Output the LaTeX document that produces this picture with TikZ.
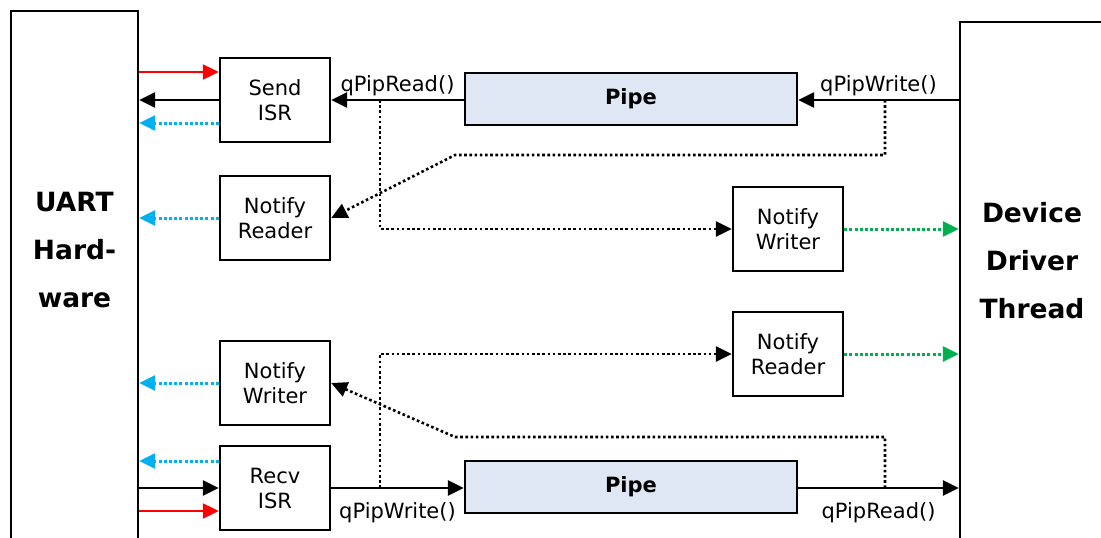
\documentclass[tikz,border=0pt]{standalone}
\usepackage{fontspec}
\setmainfont{DejaVu Sans}
\usetikzlibrary{arrows.meta}
\definecolor{pipeblue}{HTML}{DFE7F5}
\definecolor{sigred}{HTML}{FF0000}
\definecolor{sigcyan}{HTML}{00B0F0}
\definecolor{siggreen}{HTML}{00B050}

\begin{document}
\begin{tikzpicture}[x=1pt,y=-1pt,
    font=\fontsize{21}{25}\selectfont,
    >={Triangle[length=16pt,width=15pt]},
    solidline/.style={draw=black,line width=2.5pt,->},
    redline/.style={draw=sigred,line width=2.2pt,->},
    dotline/.style={draw=black,line width=2.6pt,dash pattern=on 2.6pt off 2.6pt,->},
    cyanline/.style={draw=sigcyan,line width=3pt,dash pattern=on 3pt off 2.2pt,->},
    greenline/.style={draw=siggreen,line width=3pt,dash pattern=on 3pt off 2.2pt,->},
    bigtext/.style={font=\bfseries\fontsize{26.5}{48}\selectfont,align=center}]
\useasboundingbox (0,0) rectangle (1101,538);
\clip (0,0) rectangle (1101,538);

\begin{scope}[every node/.style={draw,line width=2.4pt,inner sep=0pt}]
    \node[minimum width=127pt,minimum height=600pt] (uart) at (74.5,311) {};
    \node[minimum width=200pt,minimum height=600pt] (ddt) at (1060,322) {};
\end{scope}
\node[bigtext] (uarttext) at (74.5,250) {UART\\Hard-\\ware};
\node[bigtext] (ddttext) at (1032,261) {Device\\Driver\\Thread};

\begin{scope}[every node/.style={draw,line width=2.4pt,minimum width=110pt,minimum height=84pt,align=center}]
    \node (sendisr) at (275,100) {Send\\ISR};
    \node (notrdL) at (275,218) {Notify\\Reader};
    \node (notwrL) at (275,383) {Notify\\Writer};
    \node (recvisr) at (275,488) {Recv\\ISR};
    \node (notwrR) at (788,229) {Notify\\Writer};
    \node (notrdR) at (788,354) {Notify\\Reader};
\end{scope}

\begin{scope}[every node/.style={draw,line width=2.4pt,fill=pipeblue,minimum width=332pt,minimum height=52pt,font=\bfseries\fontsize{21}{25}\selectfont}]
    \node (pipetop) at (631,99) {Pipe};
    \node (pipebot) at (631,487) {Pipe};
\end{scope}

\coordinate (tapA) at (380,100);
\coordinate (tapB) at (885,100);
\coordinate (bendB) at (455,155);
\coordinate (tapC) at (380,488);
\coordinate (tapD) at (885,488);
\coordinate (bendD) at (455,437);

\draw[solidline] (pipetop.west |- sendisr.east) -- node[above] {qPipRead()} (sendisr.east);
\draw[solidline] (ddt.west |- tapB) -- node[above] {qPipWrite()} (pipetop.east |- tapB);
\draw[solidline] (recvisr.east) -- node[below=10pt] {qPipWrite()} (pipebot.west |- recvisr.east);
\draw[solidline] (pipebot.east |- tapD) -- node[below=10pt] {qPipRead()} (ddt.west |- tapD);

\draw[dotline] (tapA) |- (notwrR.west);
\draw[dotline] (tapB) |- (bendB) -- (notrdL.east);
\draw[dotline] (tapC) |- (notrdR.west);
\draw[dotline] (tapD) |- (bendD) -- (notwrL.east);

\draw[redline] (uart.east |- 0,72) -- (sendisr.west |- 0,72);
\draw[solidline] (sendisr.west) -- (uart.east |- sendisr.west);
\draw[cyanline] (sendisr.west |- 0,123) -- (uart.east |- 0,123);
\draw[cyanline] (notrdL.west) -- (uart.east |- notrdL.west);
\draw[cyanline] (notwrL.west) -- (uart.east |- notwrL.west);
\draw[cyanline] (recvisr.west |- 0,461) -- (uart.east |- 0,461);
\draw[solidline] (uart.east |- recvisr.west) -- (recvisr.west);
\draw[redline] (uart.east |- 0,511) -- (recvisr.west |- 0,511);
\draw[greenline] (notwrR.east) -- (ddt.west |- notwrR.east);
\draw[greenline] (notrdR.east) -- (ddt.west |- notrdR.east);
\end{tikzpicture}
\end{document}
